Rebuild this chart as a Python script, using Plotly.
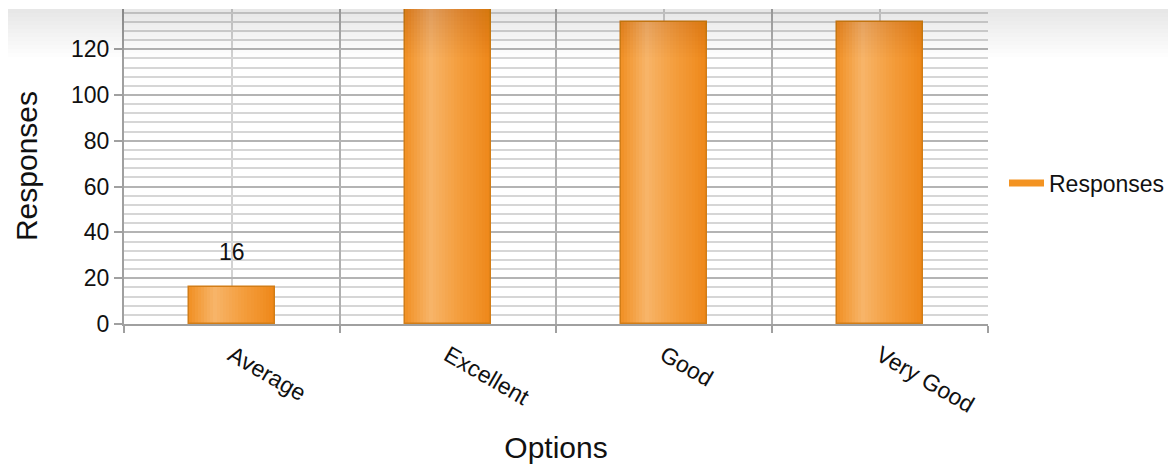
import plotly.graph_objects as go

# ---- data ----
categories = ["Average", "Excellent", "Good", "Very Good"]
responses = [16, 148, 132, 132]
series_name = "Responses"
x_title = "Options"
y_title = "Responses"
y_max = 138.0

FONT = "Liberation Sans, Arial, sans-serif"
W = 0.40  # bar width in category units
PLOT_H = 316  # plot area height in px (figure coords)

# gradient profile across each bar (position, rgb)
stops = [(0.0, (241, 144, 36)), (0.3, (247, 180, 104)), (0.62, (244, 158, 62)), (1.0, (238, 135, 24))]


def col_at(t):
    for (t0, c0), (t1, c1) in zip(stops[:-1], stops[1:]):
        if t0 <= t <= t1:
            f = (t - t0) / (t1 - t0)
            return "rgb(%d,%d,%d)" % tuple(round(a + (b - a) * f) for a, b in zip(c0, c1))
    return "rgb(%d,%d,%d)" % stops[-1][1]


fig = go.Figure()
n = 28
for i in range(n):
    t = (i + 0.5) / n
    off = -W / 2 + i * W / n
    wid = W / n * (1.6 if i < n - 1 else 1.0)
    fig.add_trace(go.Bar(
        x=categories, y=responses, width=wid, offset=off,
        marker=dict(color=col_at(t), line=dict(width=0)),
        showlegend=False, hoverinfo="skip",
    ))
# outline
fig.add_trace(go.Bar(
    x=categories, y=responses, width=W, offset=-W / 2, name=series_name,
    marker=dict(color="rgba(0,0,0,0)", line=dict(color="#D27D17", width=1.5)),
    showlegend=False,
))
# legend entry (line symbol)
fig.add_trace(go.Scatter(
    x=[None], y=[None], mode="lines", name=series_name,
    line=dict(color="#F39322", width=7),
))

# center gridlines per category
shapes = []
for c in categories:
    shapes.append(dict(type="line", xref="x", yref="paper", x0=c, x1=c, y0=0, y1=1,
                       line=dict(color="#d2d2d2", width=2), layer="below"))

# top header band and shadow
for k in range(12):
    shapes.append(dict(type="rect", xref="paper", yref="paper", x0=-0.2, x1=1.3,
                       y0=1 - (1 + 4 * (k + 1)) / PLOT_H, y1=1 - 1 / PLOT_H,
                       fillcolor="rgba(0,0,0,0.008)", line=dict(width=0), layer="above"))
shapes.append(dict(type="rect", xref="paper", yref="paper", x0=-0.2, x1=1.3,
                   y0=1 - 1 / PLOT_H, y1=1.1, fillcolor="white", line=dict(width=0), layer="above"))

px_per_unit = PLOT_H / y_max
annotations = []
for c, v in zip(categories, responses):
    if (y_max - v) * px_per_unit > 50:  # labels above the visible area are hidden
        annotations.append(dict(x=c, y=v, text=str(v), showarrow=False, yanchor="bottom",
                                yshift=20, font=dict(family=FONT, size=23, color="#111")))

fig.update_layout(
    width=1168, height=456,
    margin=dict(l=116, r=188, t=0, b=140, autoexpand=False),
    barmode="overlay",
    bargap=0,
    plot_bgcolor="white", paper_bgcolor="white",
    font=dict(family=FONT, size=23, color="#111"),
    shapes=shapes,
    annotations=annotations,
    legend=dict(x=(996 - 116) / 864, xanchor="left", y=1 - 175 / PLOT_H, yanchor="middle",
                itemwidth=35,
                font=dict(family=FONT, size=23, color="#111"), bgcolor="rgba(0,0,0,0)"),
    xaxis=dict(
        type="category", categoryorder="array", categoryarray=categories,
        tickson="boundaries", ticks="outside", ticklen=7, tickwidth=2, tickcolor="#a0a0a0",
        showgrid=True, gridcolor="#b0b0b0", gridwidth=2,
        showline=True, linecolor="#a0a0a0", linewidth=2,
        tickangle=30, ticklabelstandoff=7, tickfont=dict(family=FONT, size=23, color="#111"),
        title=dict(text=x_title, font=dict(family=FONT, size=30, color="#111"), standoff=26),
    ),
    yaxis=dict(
        range=[0, y_max], dtick=20, tick0=0,
        ticks="outside", ticklen=8, tickwidth=2, tickcolor="#a0a0a0",
        showgrid=True, gridcolor="#b4b4b4", gridwidth=2,
        minor=dict(dtick=4, showgrid=True, gridcolor="#d6d6d6", gridwidth=2),
        showline=True, linecolor="#a0a0a0", linewidth=2,
        zeroline=False,
        tickfont=dict(family=FONT, size=23, color="#111"),
        title=dict(text=y_title, font=dict(family=FONT, size=30, color="#111"), standoff=25),
    ),
)

fig.write_html("out.html")
